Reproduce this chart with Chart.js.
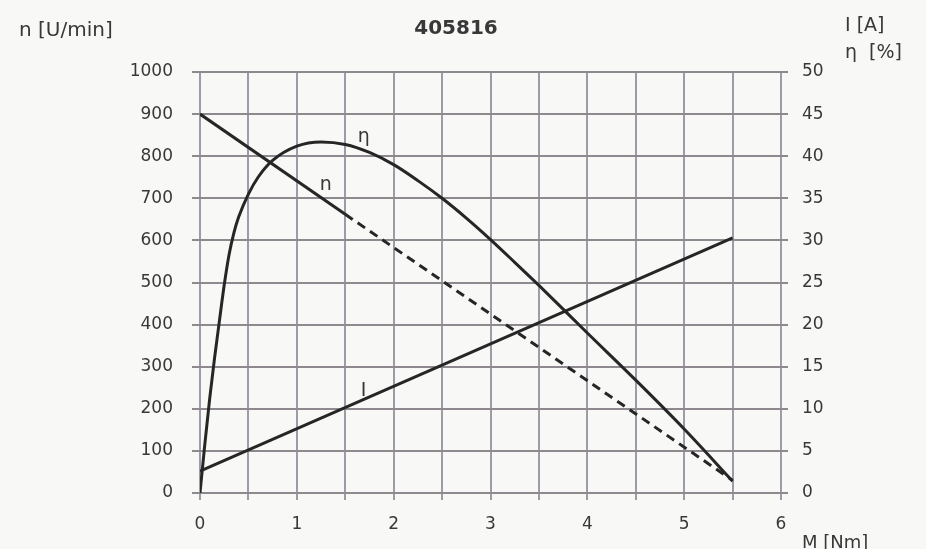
<!DOCTYPE html>
<html>
<head>
<meta charset="utf-8">
<script src="https://cdn.jsdelivr.net/npm/chart.js@4.4.1/dist/chart.umd.min.js"></script>
<style>
  html, body { margin: 0; padding: 0; background: #f8f8f7; }
  #wrap { width: 926px; height: 549px; }
</style>
</head>
<body>
<div id="wrap"><canvas id="kennlinie" width="926" height="549"></canvas></div>
<script>
// --- Datos de la curva ---
const titulo = '405816';

// Drehmoment M [Nm] para cada serie
const etaM = [0, 0.05, 0.1, 0.15, 0.2, 0.25, 0.3, 0.35, 0.4, 0.5, 0.6, 0.75, 1.0, 1.25, 1.5, 1.75, 2.0, 2.25, 2.5, 2.75, 3.0, 3.25, 3.5, 4.0, 4.5, 5.0, 5.5];
const etaWerte = [0, 5.8, 11.2, 16.0, 20.4, 24.7, 28.3, 30.9, 32.8, 35.5, 37.5, 39.5, 41.2, 41.7, 41.4, 40.45, 39.0, 37.1, 35.0, 32.65, 30.1, 27.4, 24.65, 19.0, 13.4, 7.6, 1.4];

const stromM = [0, 5.5];
const stromWerte = [2.6, 30.3];

const drehzahlSolidM = [0, 1.5];
const drehzahlSolid = [900, 662];
const drehzahlDashM = [1.5, 5.5];
const drehzahlDash = [662, 30];

// Ticks de los ejes
const ticksM = [0, 1, 2, 3, 4, 5, 6];
const ticksN = [0, 100, 200, 300, 400, 500, 600, 700, 800, 900, 1000];
const ticksI = [0, 5, 10, 15, 20, 25, 30, 35, 40, 45, 50];

// Etiquetas de las curvas (posición en unidades de datos)
const etiquetas = [
  { text: 'η', m: 1.69, v: 42.3, eje: 'y1' },
  { text: 'n', m: 1.30, v: 732, eje: 'y' },
  { text: 'I', m: 1.69, v: 241, eje: 'y' }
];

const LINEA = '#262626';
const TEXTO = '#383838';
const FUENTE = "'DejaVu Sans', sans-serif";

function puntos(xs, ys) {
  return xs.map((x, i) => ({ x: x, y: ys[i] }));
}

// --- Plugin para textos sueltos (título, unidades, nombres de curvas) ---
const textosPlugin = {
  id: 'textos',
  afterDraw(chart) {
    const ctx = chart.ctx;
    ctx.save();
    ctx.fillStyle = TEXTO;

    ctx.font = 'bold 20px ' + FUENTE;
    ctx.textAlign = 'center';
    ctx.textBaseline = 'middle';
    ctx.fillText(titulo, 456, 29);

    ctx.textAlign = 'left';
    ctx.textBaseline = 'alphabetic';
    ctx.font = '20px ' + FUENTE;
    ctx.fillText('n [U/min]', 19, 36);
    ctx.font = '19px ' + FUENTE;
    ctx.fillText('I [A]', 845, 31);
    ctx.fillText('η  [%]', 845, 58);
    ctx.font = '18px ' + FUENTE;
    ctx.fillText('M [Nm]', 802, 548);

    ctx.font = '19px ' + FUENTE;
    ctx.textAlign = 'center';
    ctx.textBaseline = 'middle';
    etiquetas.forEach(e => {
      const px = chart.scales.x.getPixelForValue(e.m);
      const py = chart.scales[e.eje].getPixelForValue(e.v);
      ctx.fillText(e.text, px, py);
    });
    ctx.restore();
  }
};

const fondoPlugin = {
  id: 'fondo',
  beforeDraw(chart) {
    const ctx = chart.ctx;
    ctx.save();
    ctx.fillStyle = '#f8f8f7';
    ctx.fillRect(0, 0, chart.width, chart.height);
    ctx.restore();
  }
};

const ctx = document.getElementById('kennlinie').getContext('2d');

new Chart(ctx, {
  type: 'line',
  data: {
    datasets: [
      {
        label: 'η',
        data: puntos(etaM, etaWerte),
        yAxisID: 'y1',
        borderColor: LINEA,
        borderWidth: 3,
        pointRadius: 0,
        cubicInterpolationMode: 'monotone',
        fill: false
      },
      {
        label: 'I',
        data: puntos(stromM, stromWerte),
        yAxisID: 'y1',
        borderColor: LINEA,
        borderWidth: 3,
        pointRadius: 0,
        fill: false
      },
      {
        label: 'n',
        data: puntos(drehzahlSolidM, drehzahlSolid),
        yAxisID: 'y',
        borderColor: LINEA,
        borderWidth: 3,
        pointRadius: 0,
        fill: false
      },
      {
        label: 'n (gestrichelt)',
        data: puntos(drehzahlDashM, drehzahlDash),
        yAxisID: 'y',
        borderColor: LINEA,
        borderWidth: 3,
        borderDash: [9, 6],
        pointRadius: 0,
        fill: false
      }
    ]
  },
  options: {
    responsive: false,
    animation: false,
    layout: { padding: { top: 72, left: 0, right: 0, bottom: 0 } },
    plugins: {
      legend: { display: false },
      tooltip: { enabled: false },
      title: { display: false }
    },
    scales: {
      x: {
        type: 'linear',
        min: 0,
        max: 6,
        afterFit: s => { s.height = 56; },
        afterBuildTicks: s => {
          const t = [];
          for (let i = 0; i <= 12; i++) t.push({ value: i / 2 });
          s.ticks = t;
        },
        grid: {
          color: '#9d9ba8',
          lineWidth: 2,
          tickLength: 7,
          tickColor: '#9d9ba8'
        },
        border: { display: false },
        ticks: {
          color: TEXTO,
          padding: 14,
          font: { family: FUENTE, size: 17 },
          maxRotation: 0,
          autoSkip: false,
          callback: v => (ticksM.includes(v) ? String(v) : '')
        }
      },
      y: {
        position: 'left',
        min: 0,
        max: 1000,
        afterFit: s => { s.width = 200; },
        afterBuildTicks: s => { s.ticks = ticksN.map(v => ({ value: v })); },
        grid: {
          color: '#8e898f',
          lineWidth: 2,
          tickLength: 8,
          tickColor: '#8e898f'
        },
        border: { display: false },
        ticks: {
          color: TEXTO,
          padding: 19,
          font: { family: FUENTE, size: 17 },
          callback: v => String(v)
        }
      },
      y1: {
        position: 'right',
        min: 0,
        max: 50,
        afterFit: s => { s.width = 145; },
        afterBuildTicks: s => { s.ticks = ticksI.map(v => ({ value: v })); },
        grid: {
          drawOnChartArea: false,
          color: '#8e898f',
          lineWidth: 2,
          tickLength: 7,
          tickColor: '#8e898f'
        },
        border: { display: false },
        ticks: {
          color: TEXTO,
          padding: 14,
          font: { family: FUENTE, size: 17 },
          callback: v => String(v)
        }
      }
    }
  },
  plugins: [fondoPlugin, textosPlugin]
});
</script>
</body>
</html>
